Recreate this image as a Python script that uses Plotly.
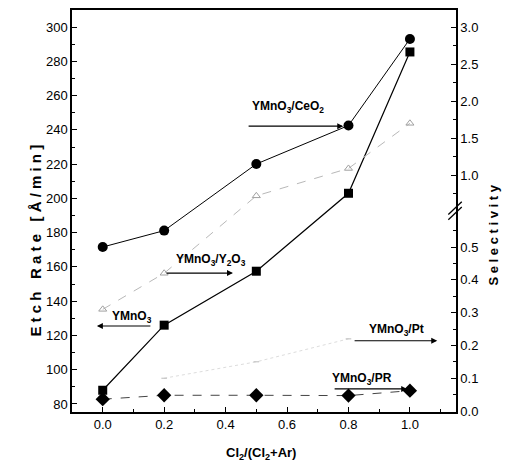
import plotly.graph_objects as go

# ---------------- data ----------------
cl2_ratio = [0.0, 0.2, 0.5, 0.8, 1.0]

etch_ymno3 = [88, 126, 157.5, 203, 285.5]          # Etch rate [Å/min] (left axis)

sel_ceo2 = [0.50, 0.55, 1.15, 1.67, 2.84]          # Selectivity (right axis)
sel_y2o3 = [0.31, 0.42, 0.72, 1.09, 1.70]
sel_pr = [0.036, 0.048, 0.048, 0.047, 0.062]
pt_ratio = [0.2, 0.5, 0.8]
sel_pt = [0.10, 0.15, 0.22]

left_ticks = [80, 100, 120, 140, 160, 180, 200, 220, 240, 260, 280, 300]
x_ticks = [0.0, 0.2, 0.4, 0.6, 0.8, 1.0]
sel_ticks_low = [0.0, 0.1, 0.2, 0.3, 0.4, 0.5]
sel_ticks_high = [1.0, 1.5, 2.0, 2.5, 3.0]
sel_minor_low = [0.05, 0.15, 0.25, 0.35, 0.45, 0.55]
sel_minor_high = [0.75, 1.25, 1.75, 2.25, 2.75]

# broken right axis: linear 0-0.6, compressed above 0.6
BREAK = 0.6
GAP_START = 0.629
UPPER_SCALE = 0.2256


def brk(s):
    if s is None:
        return None
    return s if s <= BREAK else GAP_START + (s - BREAK) * UPPER_SCALE


FONT = "Arial, Liberation Sans, Helvetica, sans-serif"

fig = go.Figure()

fig.add_trace(go.Scatter(
    x=cl2_ratio, y=etch_ymno3, mode="lines+markers", name="YMnO3",
    line=dict(color="black", width=1.2),
    marker=dict(symbol="square", size=9, color="black"),
))
fig.add_trace(go.Scatter(
    x=cl2_ratio, y=[brk(v) for v in sel_ceo2], yaxis="y2", mode="lines+markers",
    name="YMnO3/CeO2",
    line=dict(color="black", width=1),
    marker=dict(symbol="circle", size=10, color="black"),
))
fig.add_trace(go.Scatter(
    x=cl2_ratio, y=[brk(v) for v in sel_y2o3], yaxis="y2", mode="lines+markers",
    name="YMnO3/Y2O3",
    line=dict(color="#b8b8b8", width=1, dash="dash"),
    marker=dict(symbol="triangle-up-open", size=7, color="#a0a0a0", line=dict(width=1)),
))
fig.add_trace(go.Scatter(
    x=pt_ratio, y=[brk(v) for v in sel_pt], yaxis="y2", mode="lines+markers",
    name="YMnO3/Pt",
    line=dict(color="#dddddd", width=1, dash="dot"),
    marker=dict(symbol="line-ew", size=4, color="#bbbbbb", line=dict(width=1, color="#bbbbbb")),
))
fig.add_trace(go.Scatter(
    x=cl2_ratio, y=[brk(v) for v in sel_pr], yaxis="y2", mode="lines+markers",
    name="YMnO3/PR",
    line=dict(color="#444444", width=1, dash="dash"),
    marker=dict(symbol="diamond", size=11, color="black"),
))

# labels with arrows (positions in x / left-y data units)
labels = [
    ("<b>YMnO<sub>3</sub>/CeO<sub>2</sub></b>", 0.604, 253.3, 0.783, 242.2, 0.47, 242.2),
    ("<b>YMnO<sub>3</sub>/Y<sub>2</sub>O<sub>3</sub></b>", 0.353, 164.0, 0.424, 156.4, 0.203, 156.4),
    ("<b>YMnO<sub>3</sub></b>", 0.095, 130.8, -0.019, 125.5, 0.16, 125.5),
    ("<b>YMnO<sub>3</sub>/Pt</b>", 0.955, 123.2, 1.089, 116.9, 0.815, 116.9),
    ("<b>YMnO<sub>3</sub>/PR</b>", 0.845, 94.6, 0.991, 88.75, 0.75, 88.75),
]
for text, tx, ty, hx, hy, sx, sy in labels:
    fig.add_annotation(x=tx, y=ty, xref="x", yref="y", text=text, showarrow=False,
                       font=dict(family=FONT, size=12, color="black"))
    fig.add_annotation(x=hx, y=hy, ax=sx, ay=sy, xref="x", yref="y", axref="x", ayref="y",
                       text="", showarrow=True, arrowhead=2, arrowsize=1, arrowwidth=1.2,
                       arrowcolor="black")

# axis titles
fig.add_annotation(x=0, y=0.475, xref="paper", yref="paper", xshift=-47, yshift=-20,
                   text="<b>E t c h   R a t e   [ Å / m i n ]</b>", textangle=-90,
                   showarrow=False, font=dict(family=FONT, size=15, color="black"))
fig.add_annotation(x=1, y=0.475, xref="paper", yref="paper", xshift=47, yshift=-14,
                   text="<b>S e l e c t i v i t y</b>", textangle=-90,
                   showarrow=False, font=dict(family=FONT, size=13, color="black"))
fig.add_annotation(x=0.5, y=0, xref="paper", yref="paper", yshift=-52, xshift=-3,
                   text="<b>Cl<sub>2</sub>/(Cl<sub>2</sub>+Ar)</b>",
                   showarrow=False, font=dict(family=FONT, size=13, color="black"))

# axis break marks
for off in (0.0, 0.016):
    fig.add_shape(type="line", xref="paper", yref="y2",
                  x0=0.98, x1=1.015, y0=0.583 + off, y1=0.622 + off,
                  line=dict(color="black", width=1.3))

axis_common = dict(showline=True, linecolor="black", linewidth=1.5, ticks="inside",
                   ticklen=5, tickwidth=1.2, tickcolor="black", showgrid=False, zeroline=False,
                   automargin=False,
                   tickfont=dict(family=FONT, size=13, color="black"))

fig.update_layout(
    width=510, height=461,
    margin=dict(l=64, r=62, t=2, b=57),
    paper_bgcolor="white", plot_bgcolor="white",
    showlegend=False,
    xaxis=dict(range=[-0.1, 1.15], tickvals=x_ticks, ticktext=[f"{v:.1f}" for v in x_ticks],
               mirror=True,
               minor=dict(tickvals=[0.1, 0.3, 0.5, 0.7, 0.9, 1.1], ticks="inside", ticklen=3,
                          tickcolor="black"),
               **axis_common),
    yaxis=dict(range=[75.3, 310], tickvals=left_ticks,
               minor=dict(dtick=10, tick0=0, ticks="inside", ticklen=3, tickcolor="black"),
               **axis_common),
    yaxis2=dict(overlaying="y", side="right", anchor="x", range=[-0.003, 1.2226],
                tickvals=[brk(v) for v in sel_ticks_low + sel_ticks_high],
                ticktext=[f"{v:.1f}" for v in sel_ticks_low + sel_ticks_high],
                minor=dict(tickvals=[brk(v) for v in sel_minor_low + sel_minor_high],
                           ticks="inside", ticklen=3, tickcolor="black"),
                **axis_common),
)

fig.write_html("out.html")
